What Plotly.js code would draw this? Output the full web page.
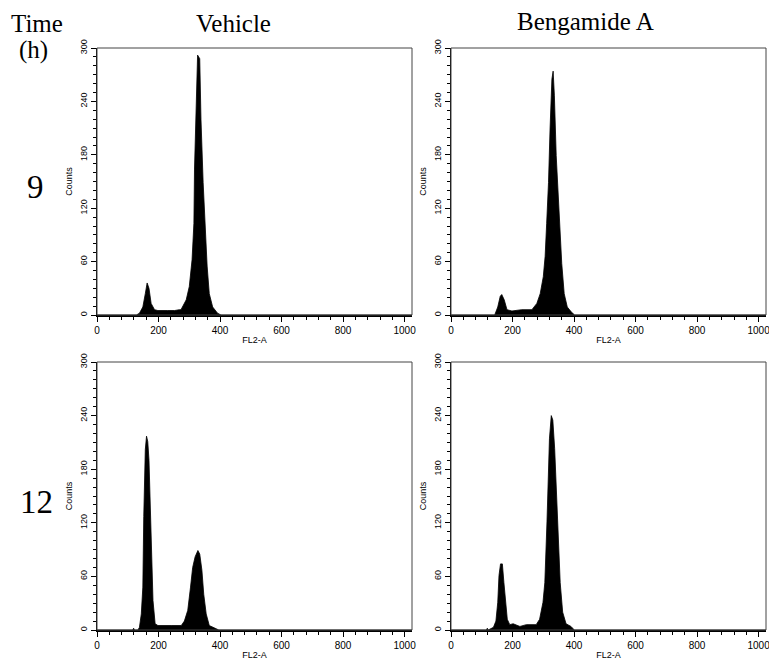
<!DOCTYPE html>
<html>
<head>
<meta charset="utf-8">
<script src="https://cdn.plot.ly/plotly-3.0.1.min.js"></script>
<style>html,body{margin:0;padding:0;background:#fff;}#chart{width:769px;height:663px;}</style>
</head>
<body>
<div id="chart"></div>
<script>
// FL2-A channel / counts readings for each histogram
const vehicle9_ch = [0,128,138,149,157,163,169,176,187,198,230,252,268,273,290,300,309,315,317,322,327,334,338,345,351,358,365,376,392,403,1024];
const vehicle9_ct = [0,0,2,9,24,36,30,13,6,5,5,5,6,6,17,32,62,103,164,229,292,288,220,149,107,55,24,9,2,0,0];

const beng9_ch = [0,142,152,160,165,173,182,198,230,263,279,290,300,306,311,317,322,328,332,336,342,348,355,360,368,378,392,402,1024];
const beng9_ct = [0,0,9,21,23,17,6,4.5,6,6,13,24,43,66,103,149,209,265,274,247,179,134,96,58,24,9,3,0,0];

const vehicle12_ch = [0,116,119,122,133,138,144,149,152,157,161,165,169,174,178,182,189,198,241,274,284,295,304,311,319,328,334,341,347,355,365,382,396,1024];
const vehicle12_ct = [0,0,2,0,0,3,18,48,127,202,217,211,190,134,74,33,7,5,5,5,10,22,48,70,82,89,85,67,40,18,5,2,0,0];

const beng12_ch = [0,115,118,121,138,146,152,156,161,167,172,177,183,191,202,224,245,277,288,299,305,312,316,320,326,331,337,342,348,355,363,374,390,401,1024];
const beng12_ct = [0,0,2,0,3,10,31,61,74,74,53,31,12,6,7,4,6,6,12,31,53,121,180,214,240,235,203,158,98,53,20,7,4,0,0];

const xTickVals = [0,200,400,600,800,1000];
const xTickText = ["0","200","400","600","800","1000"];
const yTickVals = [0,60,120,180,240,300];
const yTickText = ["0","60","120","180","240","300"];

const colTitles = ["Vehicle","Bengamide A"];
const rowTitles = ["9","12"];
const cornerTitle = ["Time","(h)"];
const xTitle = "FL2-A";
const yTitle = "Counts";

function trace(x,y,xa,ya){
  return {x:x,y:y,xaxis:xa,yaxis:ya,type:'scatter',mode:'lines',
    fill:'tozeroy',fillcolor:'#000',line:{color:'#000',width:0.8},hoverinfo:'skip',showlegend:false};
}
const data = [
  trace(vehicle9_ch,vehicle9_ct,'x','y'),
  trace(beng9_ch,beng9_ct,'x2','y2'),
  trace(vehicle12_ch,vehicle12_ct,'x3','y3'),
  trace(beng12_ch,beng12_ct,'x4','y4')
];

const W=769,H=663;
const xd = [[97/W,412/W],[451/W,766/W]];
const yd = [[(H-315)/H,(H-48)/H],[(H-630)/H,(H-362)/H]];
const tf = {family:'Liberation Sans, Arial, sans-serif',size:10,color:'#000'};

function xax(dom, anchor){
  return {domain:dom,anchor:anchor,range:[0,1024],tickmode:'array',tickvals:xTickVals,ticktext:xTickText,
    ticks:'outside',ticklen:5,tickwidth:1,tickcolor:'#000',ticklabeloverflow:'allow',
    minor:{dtick:40,tick0:0,ticks:'outside',ticklen:3,tickcolor:'#000',showgrid:false},
    showline:true,linecolor:'#000',linewidth:2,mirror:false,showgrid:false,zeroline:false,
    tickfont:tf,title:{text:xTitle,font:{family:'Liberation Sans, Arial, sans-serif',size:9,color:'#000'},standoff:2},
    fixedrange:true};
}
function yax(dom, anchor){
  return {domain:dom,anchor:anchor,range:[0,300],tickmode:'array',tickvals:yTickVals,ticktext:yTickText,
    tickangle:-90,ticks:'outside',ticklen:5,tickwidth:1,tickcolor:'#000',ticklabeloverflow:'allow',
    minor:{dtick:10,tick0:0,ticks:'outside',ticklen:3,tickcolor:'#000',showgrid:false},
    showline:true,linecolor:'#000',linewidth:1,mirror:false,showgrid:false,zeroline:false,
    tickfont:{family:'Liberation Sans, Arial, sans-serif',size:9,color:'#000'},
    title:{text:yTitle,font:{family:'Liberation Sans, Arial, sans-serif',size:9,color:'#000'},standoff:5},
    fixedrange:true};
}

const shapes = [];
[['x','y'],['x2','y2'],['x3','y3'],['x4','y4']].forEach(([a,b])=>{
  shapes.push({type:'rect',xref:a+' domain',yref:b+' domain',x0:0,x1:1,y0:0,y1:1,line:{color:'#444',width:1},fillcolor:'rgba(0,0,0,0)'});
});

const serif = 'Liberation Serif, Times New Roman, serif';
const annotations = [
  {text:cornerTitle[0],x:37/W,y:1-24/H,xref:'paper',yref:'paper',showarrow:false,font:{family:serif,size:25,color:'#000'},xanchor:'center',yanchor:'middle'},
  {text:cornerTitle[1],x:33/W,y:1-50/H,xref:'paper',yref:'paper',showarrow:false,font:{family:serif,size:25,color:'#000'},xanchor:'center',yanchor:'middle'},
  {text:colTitles[0],x:233/W,y:1-24/H,xref:'paper',yref:'paper',showarrow:false,font:{family:serif,size:25,color:'#000'},xanchor:'center',yanchor:'middle'},
  {text:colTitles[1],x:585/W,y:1-22/H,xref:'paper',yref:'paper',showarrow:false,font:{family:serif,size:25,color:'#000'},xanchor:'center',yanchor:'middle'},
  {text:rowTitles[0],x:35/W,y:1-187/H,xref:'paper',yref:'paper',showarrow:false,font:{family:serif,size:33,color:'#000'},xanchor:'center',yanchor:'middle'},
  {text:rowTitles[1],x:36/W,y:1-502/H,xref:'paper',yref:'paper',showarrow:false,font:{family:serif,size:33,color:'#000'},xanchor:'center',yanchor:'middle'}
];

const layout = {
  width:W,height:H,margin:{l:0,r:0,t:0,b:0},paper_bgcolor:'#fff',plot_bgcolor:'#fff',
  showlegend:false,
  xaxis:xax(xd[0],'y'), yaxis:yax(yd[0],'x'),
  xaxis2:xax(xd[1],'y2'), yaxis2:yax(yd[0],'x2'),
  xaxis3:xax(xd[0],'y3'), yaxis3:yax(yd[1],'x3'),
  xaxis4:xax(xd[1],'y4'), yaxis4:yax(yd[1],'x4'),
  shapes:shapes, annotations:annotations
};
Plotly.newPlot('chart',data,layout,{staticPlot:true,displayModeBar:false});
</script>
</body>
</html>
